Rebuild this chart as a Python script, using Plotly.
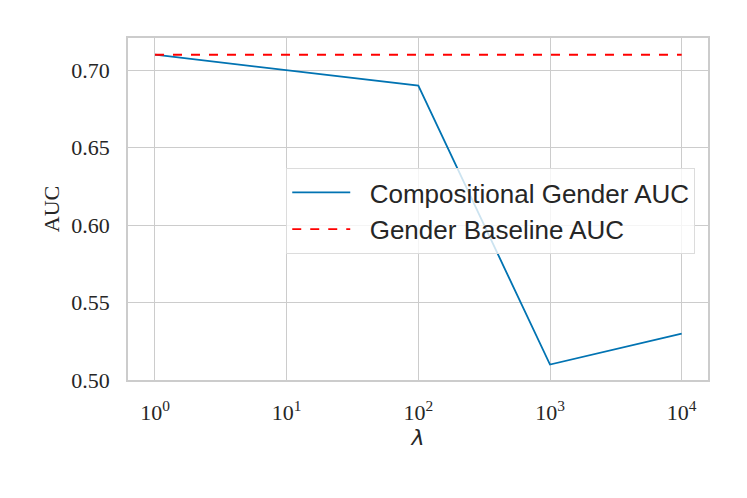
import plotly.graph_objects as go

lambdas = [1, 10, 100, 1000, 10000]
comp_auc = [0.71, 0.70, 0.69, 0.51, 0.53]
baseline_auc = [0.71, 0.71, 0.71, 0.71, 0.71]
x_tickvals = [1, 10, 100, 1000, 10000]
x_ticktext = ["10<sup>0</sup>", "10<sup>1</sup>", "10<sup>2</sup>", "10<sup>3</sup>", "10<sup>4</sup>"]
y_tickvals = [0.50, 0.55, 0.60, 0.65, 0.70]
y_ticktext = ["0.50", "0.55", "0.60", "0.65", "0.70"]
series_names = ["Compositional Gender AUC", "Gender Baseline AUC"]

pad = "\u00a0\u00a0"
fig = go.Figure()
fig.add_trace(go.Scatter(x=lambdas, y=comp_auc, mode="lines", name=pad + series_names[0],
                         line=dict(color="#0173b2", width=1.8)))
fig.add_trace(go.Scatter(x=lambdas, y=baseline_auc, mode="lines", name=pad + series_names[1],
                         line=dict(color="#ff0000", width=1.8, dash="dash")))

serif = "Liberation Serif, Times New Roman, serif"
fig.update_layout(
    width=731, height=482,
    margin=dict(l=120, r=31, t=30, b=110),
    paper_bgcolor="white", plot_bgcolor="white",
    font=dict(family=serif, color="#262626", size=22),
    showlegend=True,
    legend=dict(x=0.978, xanchor="right", y=0.62, yanchor="top",
                bgcolor="rgba(255,255,255,0.8)", bordercolor="#dcdcdc", borderwidth=1,
                font=dict(family="Liberation Sans, Arial, sans-serif", size=26, color="#262626"),
                itemwidth=58, tracegroupgap=0),
    xaxis=dict(type="log", range=[-0.205, 4.2], tickvals=x_tickvals, ticktext=x_ticktext,
               showgrid=True, gridcolor="#cccccc", gridwidth=1.2,
               showline=True, linecolor="#cccccc", linewidth=1.5, mirror=True,
               zeroline=False, ticks="", ticklabelstandoff=12,
               tickfont=dict(family=serif, size=22, color="#262626"),
               title=dict(text="<i>λ</i>", font=dict(family="DejaVu Sans, sans-serif", size=22, color="#262626"), standoff=4)),
    yaxis=dict(range=[0.5, 0.7208], tickvals=y_tickvals, ticktext=y_ticktext,
               showgrid=True, gridcolor="#cccccc", gridwidth=1.2,
               showline=True, linecolor="#cccccc", linewidth=1.5, mirror=True,
               zeroline=False, ticks="", ticklabelstandoff=12,
               tickfont=dict(family=serif, size=22, color="#262626"),
               title=dict(text="AUC", font=dict(family=serif, size=22, color="#262626"), standoff=6)),
)

fig.write_html("out.html")
